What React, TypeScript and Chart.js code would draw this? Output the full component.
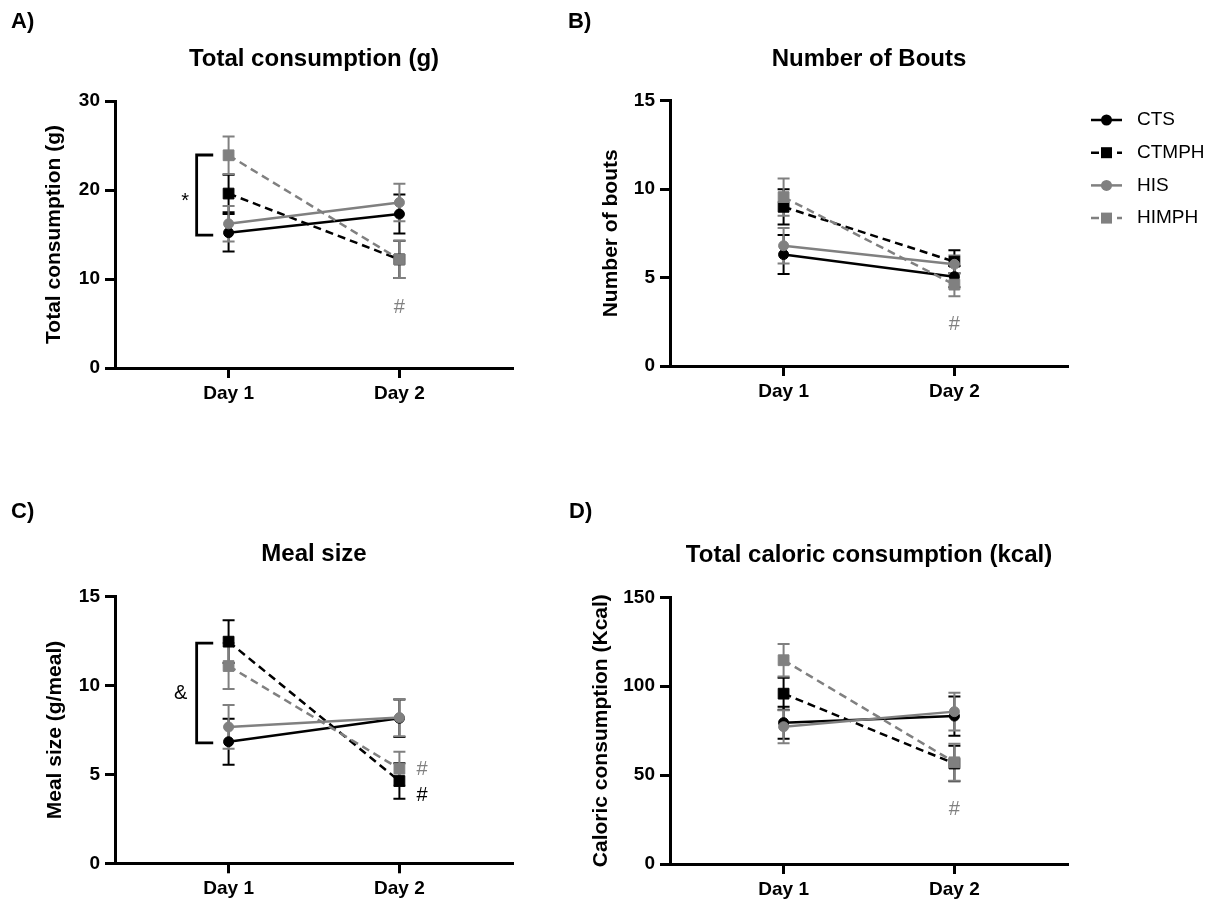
import React, { useEffect, useRef } from "react";
import { Chart, registerables } from "chart.js";

Chart.register(...registerables);

const FONT = "'Liberation Sans', Arial, Helvetica, sans-serif";
Chart.defaults.font.family = FONT;

// ---------- data ----------
const dayLabels = ["Day 1", "Day 2"];
const groupNames = ["CTS", "CTMPH", "HIS", "HIMPH"];
const groupColors = ["#000000", "#000000", "#808080", "#808080"];
const groupDashed = [false, true, false, true];
const groupShapes = ["circle", "rect", "circle", "rect"];

// A) Total consumption (g): [Day 1, Day 2] per group
const totalMean = [[15.2, 17.3], [19.6, 12.2], [16.2, 18.6], [23.9, 12.2]];
const totalSem = [[2.1, 2.2], [2.1, 2.1], [2.0, 2.1], [2.1, 2.1]];
// B) Number of bouts
const boutsMean = [[6.3, 5.05], [9.0, 5.9], [6.8, 5.75], [9.55, 4.6]];
const boutsSem = [[1.1, 0.6], [1.0, 0.65], [1.0, 0.5], [1.05, 0.65]];
// C) Meal size (g/meal)
const mealMean = [[6.84, 8.16], [12.47, 4.63], [7.67, 8.2], [11.1, 5.32]];
const mealSem = [[1.3, 1.05], [1.2, 1.0], [1.23, 1.05], [1.3, 0.96]];
// D) Caloric consumption (Kcal)
const kcalMean = [[79.5, 83.2], [95.8, 56.5], [77.2, 85.7], [114.6, 57.2]];
const kcalSem = [[9, 11], [9, 10], [9.3, 10.6], [9.2, 10.4]];

// significance annotations (data units)
const totalBracket = [{ x: 0.813, tip: 0.91, y1: 23.93, y2: 14.94, label: "*", lx: 0.745, ly: 18.7 }];
const totalMarks = [{ x: 2, y: 6.8, text: "#", color: "#808080" }];
const boutsMarks = [{ x: 2, y: 2.32, text: "#", color: "#808080" }];
const mealBracket = [{ x: 0.813, tip: 0.91, y1: 12.39, y2: 6.78, label: "&", lx: 0.72, ly: 9.56 }];
const mealMarks = [
  { x: 2.132, y: 5.27, text: "#", color: "#808080" },
  { x: 2.132, y: 3.8, text: "#", color: "#000000" },
];
const kcalMarks = [{ x: 2, y: 30.4, text: "#", color: "#808080" }];

const X_MIN = 0.335;
const X_MAX = 2.665;

type Bracket = { x: number; tip: number; y1: number; y2: number; label: string; lx: number; ly: number };
type Mark = { x: number; y: number; text: string; color: string };

interface PanelSpec {
  title: string;
  yTitle: string;
  means: number[][];
  sems: number[][];
  yMax: number;
  yStep: number;
  box: { left: number; top: number; w: number; h: number };
  yAxisWidth: number;
  xAxisHeight: number;
  padRight: number;
  titlePad: { top: number; bottom: number };
  yTitlePad: number;
  brackets: Bracket[];
  marks: Mark[];
  legend: boolean;
}

function drawMarker(ctx: CanvasRenderingContext2D, shape: string, x: number, y: number, color: string) {
  ctx.fillStyle = color;
  ctx.beginPath();
  if (shape === "circle") {
    ctx.arc(x, y, 5.5, 0, Math.PI * 2);
  } else {
    ctx.rect(x - 5.5, y - 5.5, 11, 11);
  }
  ctx.fill();
}

function makePlugin(spec: PanelSpec) {
  return {
    id: "annot",
    beforeDatasetsDraw(chart: any) {
      const { ctx } = chart;
      const xs = chart.scales.x;
      const ys = chart.scales.y;
      ctx.save();
      spec.sems.forEach((sem, i) => {
        const means = spec.means[i];
        ctx.strokeStyle = groupColors[i];
        ctx.lineWidth = 2;
        ctx.setLineDash([]);
        sem.forEach((s, j) => {
          const x = xs.getPixelForValue(j + 1);
          const yt = ys.getPixelForValue(means[j] + s);
          const yb = ys.getPixelForValue(means[j] - s);
          ctx.beginPath();
          ctx.moveTo(x, yt);
          ctx.lineTo(x, yb);
          ctx.moveTo(x - 6, yt);
          ctx.lineTo(x + 6, yt);
          ctx.moveTo(x - 6, yb);
          ctx.lineTo(x + 6, yb);
          ctx.stroke();
        });
      });
      ctx.restore();
    },
    afterDraw(chart: any) {
      const { ctx, chartArea } = chart;
      const xs = chart.scales.x;
      const ys = chart.scales.y;
      ctx.save();
      ctx.textAlign = "center";
      ctx.textBaseline = "middle";
      spec.brackets.forEach((b) => {
        const x = xs.getPixelForValue(b.x);
        const xt = xs.getPixelForValue(b.tip);
        const y1 = ys.getPixelForValue(b.y1);
        const y2 = ys.getPixelForValue(b.y2);
        ctx.strokeStyle = "#000";
        ctx.lineWidth = 2.8;
        ctx.lineJoin = "miter";
        ctx.beginPath();
        ctx.moveTo(xt, y1);
        ctx.lineTo(x, y1);
        ctx.lineTo(x, y2);
        ctx.lineTo(xt, y2);
        ctx.stroke();
        ctx.fillStyle = "#000";
        ctx.font = `20px ${FONT}`;
        ctx.fillText(b.label, xs.getPixelForValue(b.lx), ys.getPixelForValue(b.ly));
      });
      spec.marks.forEach((m) => {
        ctx.fillStyle = m.color;
        ctx.font = `20px ${FONT}`;
        ctx.fillText(m.text, xs.getPixelForValue(m.x), ys.getPixelForValue(m.y));
      });
      if (spec.legend) {
        groupNames.forEach((name, i) => {
          const y = chartArea.top + 19.3 + i * 32.7;
          const x0 = chartArea.right + 23;
          const x1 = chartArea.right + 54;
          ctx.strokeStyle = groupColors[i];
          ctx.lineWidth = 2.5;
          ctx.setLineDash(groupDashed[i] ? [8, 5] : []);
          ctx.beginPath();
          ctx.moveTo(x0, y);
          ctx.lineTo(x1, y);
          ctx.stroke();
          ctx.setLineDash([]);
          drawMarker(ctx, groupShapes[i], (x0 + x1) / 2, y, groupColors[i]);
          ctx.fillStyle = "#000";
          ctx.font = `19px ${FONT}`;
          ctx.textAlign = "left";
          ctx.fillText(name, chartArea.right + 69, y);
        });
      }
      ctx.restore();
    },
  };
}

function buildConfig(spec: PanelSpec): any {
  const datasets = groupNames.map((name, i) => ({
    label: name,
    data: spec.means[i].map((v, j) => ({ x: j + 1, y: v })),
    borderColor: groupColors[i],
    backgroundColor: groupColors[i],
    borderWidth: 2.5,
    borderDash: groupDashed[i] ? [8, 5] : [],
    pointStyle: groupShapes[i],
    pointRadius: groupShapes[i] === "rect" ? 7.6 : 5,
    pointBorderWidth: 1,
    pointBackgroundColor: groupColors[i],
    pointBorderColor: groupColors[i],
    tension: 0,
    fill: false,
    order: 3 - i,
  }));
  const tickFont = { size: 19, weight: "bold" as const, family: FONT };
  return {
    type: "line",
    data: { datasets },
    plugins: [makePlugin(spec)],
    options: {
      responsive: false,
      animation: false,
      events: [],
      layout: { padding: { left: 0, right: spec.padRight, top: 0, bottom: 0 } },
      plugins: {
        legend: { display: false },
        tooltip: { enabled: false },
        title: {
          display: true,
          text: spec.title,
          fullSize: false,
          color: "#000",
          font: { size: 24, weight: "bold", family: FONT, lineHeight: 1.2 },
          padding: spec.titlePad,
        },
      },
      scales: {
        x: {
          type: "linear",
          min: X_MIN,
          max: X_MAX,
          afterBuildTicks: (scale: any) => {
            scale.ticks = dayLabels.map((_, k) => ({ value: k + 1 }));
          },
          afterFit: (scale: any) => {
            scale.height = spec.xAxisHeight;
          },
          ticks: {
            autoSkip: false,
            maxRotation: 0,
            color: "#000",
            font: tickFont,
            padding: 4,
            callback: (v: any) => dayLabels[Math.round(Number(v)) - 1] ?? "",
          },
          grid: { drawOnChartArea: false, drawTicks: true, tickLength: 10, tickWidth: 3, tickColor: "#000" },
          border: { display: true, width: 3, color: "#000" },
        },
        y: {
          type: "linear",
          min: 0,
          max: spec.yMax,
          afterFit: (scale: any) => {
            scale.width = spec.yAxisWidth;
          },
          ticks: { stepSize: spec.yStep, color: "#000", font: tickFont, padding: 5 },
          title: {
            display: true,
            text: spec.yTitle,
            color: "#000",
            font: { size: 21, weight: "bold", family: FONT, lineHeight: 1.2 },
            padding: { top: spec.yTitlePad, bottom: 0 },
          },
          grid: { drawOnChartArea: false, drawTicks: true, tickLength: 10, tickWidth: 3, tickColor: "#000" },
          border: { display: true, width: 3, color: "#000" },
        },
      },
    },
  };
}

const panels: PanelSpec[] = [
  {
    title: "Total consumption (g)",
    yTitle: "Total consumption (g)",
    means: totalMean,
    sems: totalSem,
    yMax: 30,
    yStep: 10,
    box: { left: 0, top: 30, w: 560, h: 400 },
    yAxisWidth: 115,
    xAxisHeight: 62,
    padRight: 47,
    titlePad: { top: 14.8, bottom: 27.4 },
    yTitlePad: 41.9,
    brackets: totalBracket,
    marks: totalMarks,
    legend: false,
  },
  {
    title: "Number of Bouts",
    yTitle: "Number of bouts",
    means: boutsMean,
    sems: boutsSem,
    yMax: 15,
    yStep: 5,
    box: { left: 560, top: 30, w: 664, h: 400 },
    yAxisWidth: 110,
    xAxisHeight: 64,
    padRight: 156,
    titlePad: { top: 14.8, bottom: 27.1 },
    yTitlePad: 39.1,
    brackets: [],
    marks: boutsMarks,
    legend: true,
  },
  {
    title: "Meal size",
    yTitle: "Meal size (g/meal)",
    means: mealMean,
    sems: mealSem,
    yMax: 15,
    yStep: 5,
    box: { left: 0, top: 480, w: 560, h: 422 },
    yAxisWidth: 115,
    xAxisHeight: 38.7,
    padRight: 47,
    titlePad: { top: 60.1, bottom: 27.8 },
    yTitlePad: 42.4,
    brackets: mealBracket,
    marks: mealMarks,
    legend: false,
  },
  {
    title: "Total caloric consumption (kcal)",
    yTitle: "Caloric consumption (Kcal)",
    means: kcalMean,
    sems: kcalSem,
    yMax: 150,
    yStep: 50,
    box: { left: 560, top: 480, w: 664, h: 422 },
    yAxisWidth: 110,
    xAxisHeight: 38,
    padRight: 156,
    titlePad: { top: 60.6, bottom: 27.9 },
    yTitlePad: 28.2,
    brackets: [],
    marks: kcalMarks,
    legend: false,
  },
];

const panelLetters = [
  { text: "A)", left: 11, top: 10 },
  { text: "B)", left: 568, top: 10 },
  { text: "C)", left: 11, top: 500 },
  { text: "D)", left: 569, top: 500 },
];

function Panel({ spec }: { spec: PanelSpec }) {
  const ref = useRef<HTMLCanvasElement>(null);
  useEffect(() => {
    const chart = new Chart(ref.current as HTMLCanvasElement, buildConfig(spec));
    return () => chart.destroy();
  }, [spec]);
  return (
    <canvas
      ref={ref}
      width={spec.box.w}
      height={spec.box.h}
      style={{
        position: "absolute",
        left: spec.box.left,
        top: spec.box.top,
        width: spec.box.w,
        height: spec.box.h,
      }}
    />
  );
}

export default function App() {
  return (
    <div
      style={{
        position: "absolute",
        left: 0,
        top: 0,
        width: 1224,
        height: 902,
        overflow: "hidden",
        background: "#fff",
        fontFamily: FONT,
      }}
    >
      {panels.map((p, i) => (
        <Panel key={i} spec={p} />
      ))}
      {panelLetters.map((l) => (
        <div
          key={l.text}
          style={{
            position: "absolute",
            left: l.left,
            top: l.top,
            font: `bold 22px ${FONT}`,
            lineHeight: "22px",
            color: "#000",
          }}
        >
          {l.text}
        </div>
      ))}
    </div>
  );
}
